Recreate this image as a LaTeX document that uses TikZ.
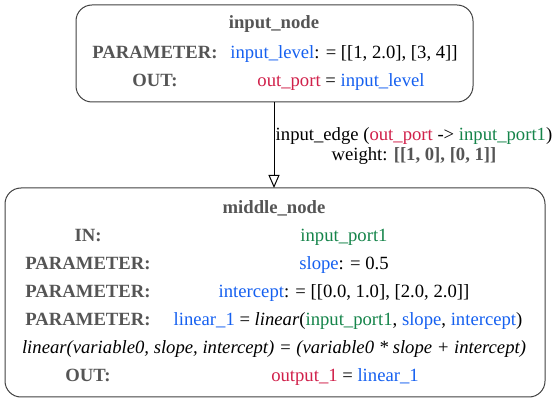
\documentclass[tikz,border=0pt]{standalone}
\usepackage{fontspec}
\setmainfont{Liberation Serif}
\usetikzlibrary{arrows.meta}
\definecolor{lblgray}{HTML}{555555}
\definecolor{parblue}{HTML}{1560F0}
\definecolor{outred}{HTML}{D0204A}
\definecolor{inpgreen}{HTML}{15844A}
\newcommand{\lbl}[1]{\textcolor{lblgray}{\bfseries #1}}
\newcommand{\pb}[1]{\textcolor{parblue}{#1}}
\newcommand{\orr}[1]{\textcolor{outred}{#1}}
\newcommand{\ig}[1]{\textcolor{inpgreen}{#1}}
\begin{document}
\begin{tikzpicture}[x=1pt,y=-1pt,
  box/.style={draw=black!75, line width=1pt, rounded corners=16pt},
  txt/.style={inner sep=0pt, font=\fontsize{18.67}{20}\selectfont, anchor=base},
  conn/.style={draw, line width=1pt, -{Triangle[open, length=13pt, width=11pt]}}]
\useasboundingbox (0,0) rectangle (560,403);
% input_node
\draw[box] (76,5) rectangle (473,102);
\node[txt] (inTitle) at (274,29) {\lbl{input\_node}};
\node[txt] (inP) at (155,59) {\lbl{PARAMETER:}};
\node[txt] (inPv) at (344,59) {\pb{input\_level}: = [[1, 2.0], [3, 4]]};
\node[txt] (inO) at (155,87) {\lbl{OUT:}};
\node[txt] (inOv) at (341,87) {\orr{out\_port} = \pb{input\_level}};
\coordinate (inBottom) at (274,102);
% middle_node
\draw[box] (5,188) rectangle (545,397);
\coordinate (midTop) at (274,188);
\node[txt] (midTitle) at (274,214) {\lbl{middle\_node}};
\node[txt] (mI) at (88,242) {\lbl{IN:}};
\node[txt] (mIv) at (344,242) {\ig{input\_port1}};
\node[txt] (mP1) at (88,270) {\lbl{PARAMETER:}};
\node[txt] (mP1v) at (344,270) {\pb{slope}: = 0.5};
\node[txt] (mP2) at (88,298) {\lbl{PARAMETER:}};
\node[txt] (mP2v) at (344,298) {\pb{intercept}: = [[0.0, 1.0], [2.0, 2.0]]};
\node[txt] (mP3) at (88,326) {\lbl{PARAMETER:}};
\node[txt] (mP3v) at (348,326) {\pb{linear\_1} = \textit{linear}(\ig{input\_port1}, \pb{slope}, \pb{intercept})};
\node[txt] (mF) at (274,354) {\itshape linear(variable0, slope, intercept) = (variable0 * slope + intercept)};
\node[txt] (mO) at (88,382) {\lbl{OUT:}};
\node[txt] (mOv) at (345,382) {\orr{output\_1} = \pb{linear\_1}};
% edge
\draw[conn] (inBottom) -- (midTop);
\node[txt] (eLbl) at (414,141) {input\_edge (\orr{out\_port} -> \ig{input\_port1})};
\node[txt] (eW) at (414,161) {weight: \lbl{[[1, 0], [0, 1]]}};
\end{tikzpicture}
\end{document}
